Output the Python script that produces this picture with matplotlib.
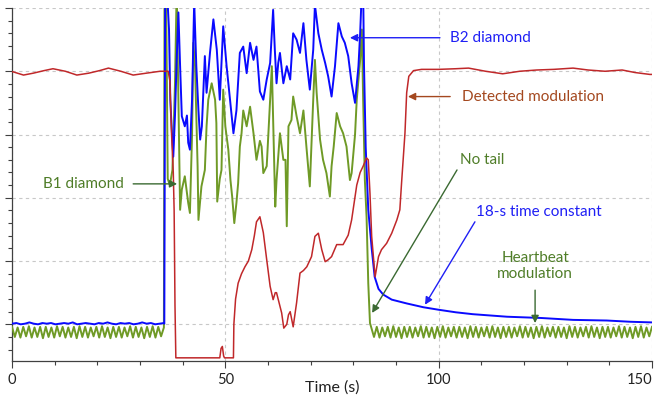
import numpy as np
import matplotlib
matplotlib.use("Agg")
import matplotlib.pyplot as plt
from matplotlib.ticker import MultipleLocator

plt.rcParams['font.family'] = ['Lato', 'DejaVu Sans']

# ---------------- data ----------------
# B2 diamond (blue)
blue_base = [0.01, 0.02, 0.00, 0.01, 0.03, 0.01, 0.00, 0.02, 0.01, 0.02, 0.00, 0.01,
             0.02, 0.01, 0.03, 0.00, 0.01, 0.02, 0.01, 0.00, 0.02, 0.01, 0.03, 0.01,
             0.00, 0.02, 0.01, 0.02, 0.00, 0.01, 0.03, 0.01, 0.02, 0.00, 0.01, 0.02]
blue_t = [35.7, 35.9, 36.3, 36.8, 37.1, 37.4, 37.8, 38.2, 38.6, 39.0, 39.4, 39.8, 40.5,
          41.0, 41.3, 41.7, 42.2, 42.7, 43.2, 43.7, 44.1, 44.5, 45.2, 45.6, 46.4, 47.2,
          48.0, 48.7, 49.5, 50.3, 51.1, 51.9, 52.6, 53.4, 54.2, 55.0, 55.8, 56.6, 57.3,
          58.1, 58.9, 59.7, 60.5, 61.2, 61.6, 62.0, 62.4, 62.8, 63.6, 64.4, 65.2, 65.9,
          66.7, 67.5, 68.3, 69.0, 69.8, 70.6, 71.0, 71.8, 72.6, 73.4, 74.1, 74.9, 75.7,
          76.5, 77.3, 78.0, 78.8, 79.6, 80.4, 81.2, 81.6, 82.0, 82.3, 82.5, 82.9, 83.5,
          84.3, 85.0, 85.9, 87.0, 89.0, 92.5, 96.4, 100.0, 104.0, 108.0, 116.0, 124.0,
          131.5, 139.4, 145.0, 150.0]
blue_v = [0.01, 5.3, 5.3, 4.66, 3.55, 3.13, 2.65, 3.3, 4.18, 4.93, 4.08, 3.29, 3.13,
          3.3, 2.87, 2.76, 3.55, 5.1, 4.08, 3.38, 2.92, 3.13, 4.24, 3.66, 4.29, 4.82,
          4.34, 3.55, 4.71, 4.08, 3.55, 3.02, 3.38, 4.29, 4.39, 3.97, 4.45, 4.18, 4.39,
          3.68, 3.55, 3.87, 4.13, 4.97, 4.34, 3.81, 4.13, 4.29, 3.81, 4.08, 3.87, 4.6,
          4.5, 4.29, 4.76, 4.18, 3.71, 4.34, 5.05, 4.6, 4.34, 4.13, 3.92, 3.6, 4.08,
          4.76, 4.55, 4.45, 4.24, 3.81, 3.5, 4.08, 4.6, 5.3, 5.3, 4.1, 2.8, 1.81,
          1.2, 0.75, 0.56, 0.47, 0.39, 0.33, 0.27, 0.23, 0.19, 0.16, 0.12, 0.10,
          0.07, 0.06, 0.04, 0.03]

# B1 diamond (green): heartbeat before, burst, heartbeat after
green_pre = [-0.04, -0.20, -0.05, -0.21, -0.04, -0.19, -0.03, -0.21, -0.05, -0.20,
             -0.04, -0.22, -0.04, -0.20, -0.05, -0.21, -0.03, -0.19, -0.04, -0.21,
             -0.05, -0.20, -0.04, -0.22, -0.03, -0.20, -0.04, -0.21, -0.05, -0.19,
             -0.04, -0.21, -0.03, -0.20, -0.05, -0.22, -0.04, -0.20, -0.04, -0.21,
             -0.05, -0.19, -0.03, -0.21, -0.04, -0.20, -0.05, -0.22, -0.04, -0.20,
             -0.03, -0.21, -0.04, -0.19, -0.05]
green_t = [35.75, 36.1, 36.5, 37.0, 37.6, 38.2, 38.6, 39.0, 39.4, 39.8, 40.5, 41.3,
           41.7, 42.2, 42.5, 42.9, 43.2, 43.5, 43.7, 44.4, 45.2, 45.6, 46.0, 46.8,
           47.6, 47.9, 48.1, 48.7, 49.1, 49.5, 50.0, 50.7, 51.2, 51.6, 52.1, 52.6,
           53.0, 53.4, 53.8, 54.2, 55.0, 55.8, 56.6, 57.3, 58.1, 58.5, 58.9, 59.7,
           60.5, 60.9, 61.3, 61.7, 62.0, 62.8, 63.6, 64.1, 64.4, 64.8, 65.5, 65.9,
           66.7, 67.5, 68.3, 69.0, 69.8, 70.6, 71.0, 71.4, 72.2, 72.9, 73.7, 74.5,
           74.9, 75.4, 76.1, 76.9, 77.6, 78.4, 79.2, 79.6, 80.4, 80.8, 81.6, 82.0,
           82.3, 82.7, 83.1, 83.5, 83.9]
green_v = [5.3, 5.3, 2.3, 2.2, 2.44, 3.8, 5.3, 3.55, 1.81, 2.13, 2.34, 1.92,
           1.76, 3.0, 4.45, 4.08, 3.29, 2.5, 1.65, 2.18, 2.44, 3.13, 3.55, 3.81,
           3.55, 3.18, 1.94, 2.3, 2.44, 3.71, 3.13, 2.76, 2.28, 2.02, 1.6, 1.92,
           2.23, 2.81, 3.02, 3.38, 3.13, 3.44, 3.02, 2.6, 2.9, 2.81, 2.39, 2.5,
           3.55, 4.08, 3.0, 1.86, 2.28, 3.02, 2.6, 2.6, 1.55, 3.13, 3.23, 3.6,
           3.29, 3.02, 3.38, 2.81, 2.18, 3.55, 4.18, 3.66, 2.92, 2.6, 2.39, 2.02,
           2.5, 2.81, 3.34, 3.13, 3.02, 2.81, 2.28, 2.39, 3.0, 3.55, 4.18, 4.66,
           3.55, 2.28, 1.7, 0.65, 0.02]
green_post = [-0.05, -0.20, -0.04, -0.21, -0.05, -0.19, -0.04, -0.21, -0.03, -0.20,
              -0.05, -0.22, -0.04, -0.20, -0.04, -0.21, -0.05, -0.19, -0.03, -0.21,
              -0.04, -0.20, -0.05, -0.22, -0.04, -0.20, -0.03, -0.21, -0.05, -0.19,
              -0.04, -0.21, -0.04, -0.20, -0.05, -0.22, -0.03, -0.20, -0.04, -0.21,
              -0.05, -0.19, -0.04, -0.21, -0.03, -0.20, -0.05, -0.22, -0.04, -0.20,
              -0.04, -0.21, -0.05, -0.19, -0.03, -0.21, -0.04, -0.20, -0.05, -0.22,
              -0.04, -0.20, -0.03, -0.21, -0.05, -0.19, -0.04, -0.21, -0.04, -0.20,
              -0.05, -0.22, -0.03, -0.20, -0.04, -0.21, -0.05, -0.19, -0.04, -0.21,
              -0.03, -0.20, -0.05, -0.22, -0.04, -0.20, -0.04, -0.21, -0.05, -0.19,
              -0.03, -0.21, -0.04, -0.20, -0.05, -0.22, -0.04, -0.20, -0.03, -0.21,
              -0.05, -0.19, -0.04]

# Detected modulation (red)
red_t = [0.0, 0.3, 2.7, 5.0, 7.5, 9.6, 12.5, 15.2, 18.0, 20.5, 22.6, 25.5, 28.4,
         31.5, 34.7, 36.6, 37.0, 37.4, 37.8, 38.0, 38.2, 38.4, 48.7, 49.0, 49.3,
         49.6, 49.8, 51.9, 52.0, 52.4, 53.0, 53.8, 54.6, 55.4, 56.2, 56.8, 57.3,
         58.1, 58.9, 59.7, 60.5, 61.2, 61.7, 62.0, 62.3, 63.2, 63.7, 64.4, 64.8,
         65.2, 65.9, 66.7, 67.5, 68.3, 69.1, 70.2, 71.0, 71.8, 72.6, 73.4, 74.1,
         74.9, 76.1, 77.6, 78.8, 79.6, 80.8, 81.6, 82.3, 83.1, 83.5, 83.9, 84.3,
         84.7, 85.1, 85.9, 86.6, 87.8, 89.0, 90.2, 90.9, 91.3, 92.1, 92.5, 93.0,
         94.1, 96.0, 100.0, 104.0, 107.0, 111.0, 115.0, 119.0, 123.0, 127.0,
         131.5, 135.0, 139.0, 143.0, 146.0, 149.5, 150.0]
red_v = [3.99, 3.99, 3.94, 3.97, 4.01, 4.04, 4.0, 3.94, 3.97, 4.01, 4.05, 4.0, 3.94,
         3.97, 4.0, 4.0, 3.85, 3.0, 2.4, 1.8, 0.3, -0.53, -0.53, -0.38, -0.35,
         -0.5, -0.53, -0.53, 0.0, 0.4, 0.65, 0.8, 0.91, 1.0, 1.18, 1.4, 1.62,
         1.7, 1.45, 1.02, 0.6, 0.39, 0.5, 0.5, 0.42, 0.18, -0.06, 0.0, 0.15,
         0.2, -0.04, 0.34, 0.81, 0.85, 0.91, 1.07, 1.39, 1.44, 1.18, 0.99, 1.02,
         1.07, 1.26, 1.26, 1.41, 1.65, 2.2, 2.4, 2.5, 2.63, 2.6, 2.07, 1.39,
         1.07, 0.75, 1.07, 1.18, 1.28, 1.44, 1.65, 1.81, 2.23, 3.02, 3.66, 3.92,
         4.01, 4.03, 4.03, 4.04, 4.05, 4.0, 3.96, 4.0, 4.02, 4.03,
         4.05, 4.02, 4.0, 4.02, 3.98, 3.95, 3.95]

x_ticks = [0, 50, 100, 150]
x_label = "Time (s)"

# ---------------- figure ----------------
fig = plt.figure(figsize=(6.54, 4.0), dpi=100)
ax = fig.add_axes([12/654, 39/400, 640/654, 353/400])

BLUE = '#0a0aff'
GREEN = '#6f9a26'
RED = '#c0282a'

bt = list(np.linspace(0.0, 35.6, len(blue_base))) + blue_t
bv = blue_base + blue_v
gt = (list(np.linspace(0.0, 35.6, len(green_pre))) + green_t +
      list(np.linspace(84.2, 150.0, len(green_post))))
gv = green_pre + green_v + green_post

ax.plot(gt, gv, color=GREEN, lw=1.4, zorder=3)
ax.plot(bt, bv, color=BLUE, lw=1.4, zorder=4)
ax.plot(red_t, red_v, color=RED, lw=1.1, zorder=5)

ax.set_xlim(0, 150)
ax.set_ylim(-0.58, 5.0)

ax.xaxis.set_minor_locator(MultipleLocator(10))
ax.set_xticks(x_ticks)
ax.set_xticklabels([str(v) for v in x_ticks])
ax.yaxis.set_major_locator(MultipleLocator(1))
ax.yaxis.set_minor_locator(MultipleLocator(0.2))
ax.tick_params(axis='both', which='major', length=5, width=0.8, color='#404040',
               direction='out', labelsize=10.5, labelcolor='#222222')
ax.tick_params(axis='both', which='minor', length=3, width=0.8, color='#404040',
               direction='out')
ax.tick_params(axis='y', which='both', labelleft=False)
ax.get_xticklabels()[-1].set_horizontalalignment('right')

ax.grid(True, which='major', color='#c8c8c8', linestyle=(0, (3, 3)), lw=0.8)
for s in ['top', 'right']:
    ax.spines[s].set_visible(False)
for s in ['left', 'bottom']:
    ax.spines[s].set_color('#404040')
    ax.spines[s].set_linewidth(0.9)

ax.set_xlabel(x_label, fontsize=11.5, color='#222222')
ax.xaxis.label.set_verticalalignment('center')
ax.xaxis.set_label_coords(0.5, -0.075)

# ---------------- annotations ----------------
TB = '#1f1ff5'
TBR = '#a4481f'
TG = '#4f7d28'
AG = '#3b6a32'

def arrow(x0, y0, x1, y1, c):
    ax.annotate('', xy=(x1, y1), xytext=(x0, y0),
                arrowprops=dict(arrowstyle='-|>', color=c, lw=1.0,
                                mutation_scale=11, shrinkA=0, shrinkB=0),
                zorder=6)

ax.text(102.7, 4.53, 'B2 diamond', color=TB, fontsize=11, va='center', ha='left')
arrow(100.3, 4.53, 79.2, 4.53, TB)

ax.text(105.5, 3.6, 'Detected modulation', color=TBR, fontsize=11, va='center', ha='left')
arrow(102.7, 3.6, 92.8, 3.6, TBR)

ax.text(110.2, 2.6, 'No tail', color=TG, fontsize=11, va='center', ha='center')
arrow(104.3, 2.44, 84.4, 0.18, AG)

ax.text(108.7, 1.78, '18-s time constant', color=TB, fontsize=11, va='center', ha='left')
arrow(108.5, 1.62, 96.8, 0.31, TB)

ax.text(122.6, 0.92, 'Heartbeat\nmodulation', color=TG, fontsize=11, va='center',
        ha='center', linespacing=1.2)
arrow(122.6, 0.54, 122.6, 0.02, AG)

ax.text(7.3, 2.22, 'B1 diamond', color=TG, fontsize=11, va='center', ha='left')
arrow(28.4, 2.22, 38.7, 2.22, AG)

fig.savefig('out.png', dpi=100)
